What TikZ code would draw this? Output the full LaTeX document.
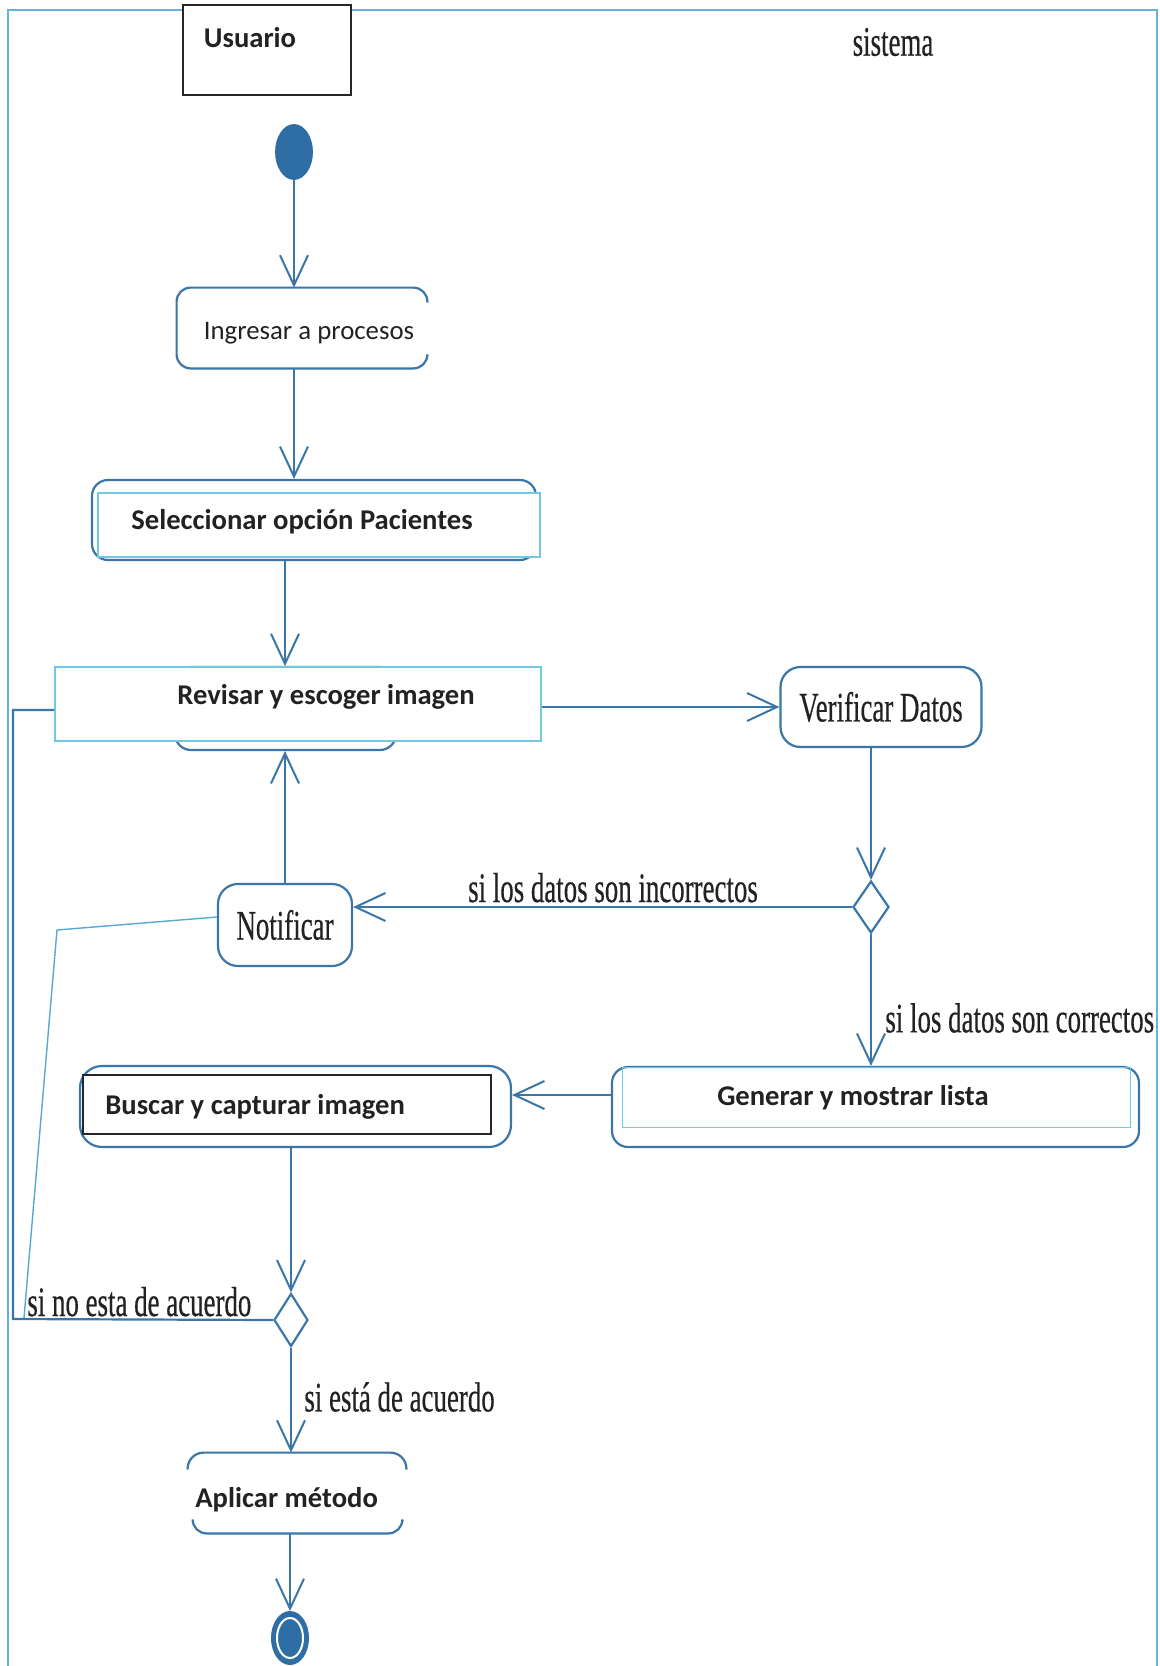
\documentclass[tikz,border=0pt]{standalone}
\usepackage{fontspec}
\usepackage{graphicx}
\setmainfont{Liberation Serif}
\newfontfamily\serifdark{Liberation Serif}[FakeBold=0.5]
\newfontfamily\calfont{Carlito}
\usetikzlibrary{arrows.meta,shapes.geometric,calc}
\definecolor{lineblue}{HTML}{3A77A8}
\definecolor{frameblue}{HTML}{62B4DC}
\definecolor{lightcyan}{HTML}{70C8E2}
\definecolor{fillblue}{HTML}{2F6EA5}
\definecolor{txt}{HTML}{222222}
\newcommand{\cond}[1]{\scalebox{0.64}[1]{#1}}
\tikzset{
  conn/.style={draw=lineblue, line width=1.1pt},
  arr/.style={conn, -{Straight Barb[length=15pt,width=14pt,line width=1pt]}},
  serif/.style={font=\serifdark\fontsize{21}{25}\selectfont, text=txt, inner sep=0pt},
  calib/.style={font=\calfont\bfseries\fontsize{14.3}{17}\selectfont, text=txt, inner sep=0pt},
  calibreg/.style={font=\calfont\fontsize{13.4}{16}\selectfont, text=txt, inner sep=0pt},
  actbox/.style={conn, fill=white, inner sep=0pt},
  plain/.style={inner sep=0pt},
  dec/.style={diamond, conn, fill=white, inner sep=0pt}
}
\begin{document}
\begin{tikzpicture}[x=0.5pt,y=-0.5pt]
\useasboundingbox (0,0) rectangle (1160,1666);
\fill[white] (0,0) rectangle (1160,1666);
% frame
\draw[frameblue, line width=1pt] (8,1666) -- (8,10) -- (1157,10) -- (1157,1666);
% swimlane headers
\node[draw=black!85, line width=1.2pt, fill=white, minimum width=84pt, minimum height=45pt, inner sep=0pt] (usuario) at (267,50) {};
\node[calib] (usuariotxt) at (250,38) {Usuario};
\node[serif] (sistema) at (893,42) {\cond{sistema}};
% start
\node[ellipse, fill=fillblue, draw=fillblue, minimum width=18.5pt, minimum height=27.5pt, inner sep=0pt] (start) at (294,152) {};
% Ingresar
\node[plain, minimum width=125pt, minimum height=40pt] (ingresar) at (302,328) {};
\draw[conn, rounded corners=7pt] ($(ingresar.north east)+(0,15)$) -- (ingresar.north east) -- (ingresar.north west) -- (ingresar.south west) -- (ingresar.south east) -- ($(ingresar.south east)+(0,-13)$);
\node[calibreg] (ingresartxt) at (309,333) {Ingresar a procesos};
% Seleccionar
\node[actbox, rounded corners=8pt, minimum width=222pt, minimum height=40pt] (selecc) at (314,520) {};
\node[draw=lightcyan, line width=0.6pt, fill=white, minimum width=221pt, minimum height=32pt, inner sep=0pt] (seleccin) at (319,525) {};
\node[calib] (selecctxt) at (302,522) {Seleccionar opción Pacientes};
% Revisar
\node[actbox, rounded corners=8pt, minimum width=110.5pt, minimum height=41.5pt] (revisarback) at (285.5,708.5) {};
\node[draw=lightcyan, line width=0.9pt, fill=white, minimum width=243pt, minimum height=37pt, inner sep=0pt] (revisar) at (298,704) {};
\node[calib] (revisartxt) at (326,697) {Revisar y escoger imagen};
% Verificar
\node[actbox, rounded corners=10pt, minimum width=100.5pt, minimum height=40pt, serif] (verificar) at (881,707) {\cond{Verificar Datos}};
% decision 1
\node[dec, minimum width=18pt, minimum height=26pt] (d1) at (871,907) {};
% Notificar
\node[actbox, rounded corners=10pt, minimum width=67pt, minimum height=41pt, serif] (notificar) at (285,925) {\cond{Notificar}};
% Generar
\node[actbox, rounded corners=8pt, minimum width=263.5pt, minimum height=40pt] (generar) at (875.5,1107) {};
\node[draw=lightcyan, line width=0.5pt, minimum width=254pt, minimum height=30pt, inner sep=0pt] (generarin) at (876,1097) {};
\node[calib] (generartxt) at (853,1098) {Generar y mostrar lista};
% Buscar
\node[actbox, rounded corners=11pt, minimum width=215.5pt, minimum height=40.5pt] (buscar) at (295.5,1106.5) {};
\node[draw=black!85, line width=1.2pt, fill=white, minimum width=204pt, minimum height=29.5pt, inner sep=0pt] (buscarin) at (287,1104.5) {};
\node[calib, anchor=west] (buscartxt) at (105,1107) {Buscar y capturar imagen};
% decision 2
\node[dec, minimum width=17pt, minimum height=26.5pt] (d2) at (291,1320) {};
% Aplicar
\node[plain, minimum width=109pt, minimum height=40pt] (aplicar) at (297,1493) {};
\draw[conn, rounded corners=8pt] ($(aplicar.north west)+(0,17)$) -- (aplicar.north west) -- (aplicar.north east) -- ($(aplicar.north east)+(0,17)$);
\draw[conn, rounded corners=7pt] ($(aplicar.south west)+(5,-12)$) -- ($(aplicar.south west)+(5,0)$) -- ($(aplicar.south east)+(-4,0)$) -- ($(aplicar.south east)+(-4,-12)$);
\node[calib, anchor=west] (aplicartxt) at (195,1500) {Aplicar método};
% end
\node[ellipse, fill=fillblue, draw=fillblue, line width=1pt, minimum width=18pt, minimum height=26pt, inner sep=0pt] (fin) at (290,1638) {};
\node[ellipse, fill=fillblue, draw=white, line width=1pt, minimum width=13pt, minimum height=20pt, inner sep=0pt] (fininner) at (290,1638) {};
% coordinates
\coordinate (gb) at (0,1095);
\coordinate (nbend) at (57,930);
\coordinate (nend) at (24,1318);
\coordinate (loopbot) at (13,1319);
\coordinate (looptop) at (13,710);
% connectors
\draw[arr] (start.south) -- (start.south |- ingresar.north);
\draw[arr] (ingresar.south -| start) -- (selecc.north -| start);
\draw[arr] (selecc.south -| notificar) -- (revisar.north -| notificar);
\draw[arr] (revisar.east |- verificar) -- (verificar.west);
\draw[arr] (d1 |- verificar.south) -- (d1.north);
\draw[arr] (d1.west) -- (d1.west -| notificar.east);
\node[serif, anchor=base] (lblinc) at (613,902) {\cond{si los datos son incorrectos}};
\draw[arr] (notificar.north) -- (notificar.north |- revisarback.south);
\draw[frameblue!80!lineblue, line width=0.7pt] ($(notificar.west)+(0,-8)$) -- (nbend) -- (nend);
\draw[arr] (d1.south) -- (d1.south |- generar.north);
\node[serif, anchor=west] (lblcor) at (885,1018) {\cond{si los datos son correctos}};
\draw[arr] (generar.west |- gb) -- (buscar.east |- gb);
\draw[arr] (d2 |- buscar.south) -- (d2.north);
\draw[conn] (d2.west) -- (loopbot) -- (looptop) -- (revisar.west |- looptop);
\node[serif, anchor=base west] (lblno) at (27,1316) {\cond{si no esta de acuerdo}};
\draw[arr] (d2.south) -- (d2.south |- aplicar.north);
\node[serif, anchor=west] (lblsi) at (304,1397) {\cond{si está de acuerdo}};
\draw[arr] (aplicar.south -| fin) -- (fin.north);
\end{tikzpicture}
\end{document}
